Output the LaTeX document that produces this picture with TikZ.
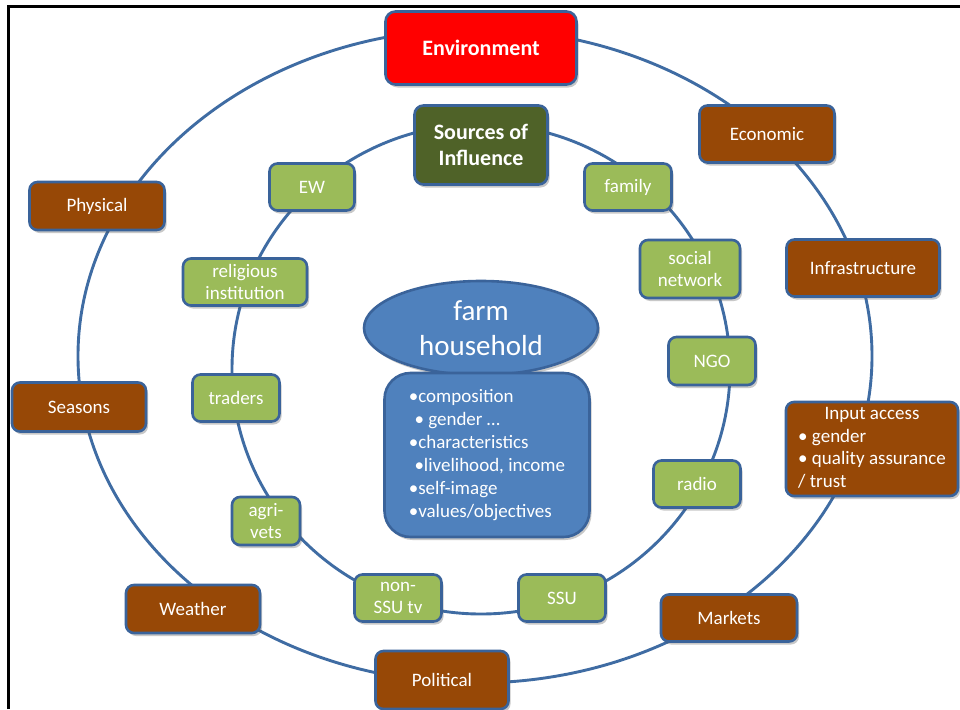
\documentclass[tikz,border=0pt]{standalone}
\usepackage{fontspec}
\setmainfont{Carlito}
\usetikzlibrary{shapes.geometric,shadows}
\definecolor{brn}{HTML}{974806}
\definecolor{grn}{HTML}{9BBB59}
\definecolor{dgrn}{HTML}{4F6228}
\definecolor{bfill}{HTML}{4F81BD}
\definecolor{bd}{HTML}{3A639A}
\definecolor{ring}{HTML}{3F6CA3}
\begin{document}
\begin{tikzpicture}[x=1pt,y=-1pt,
  base/.style={draw=bd, line width=2.6pt, rounded corners=8pt, text=white,
    font=\fontsize{19}{22.5}\selectfont, align=center, inner sep=0pt,
    drop shadow={shadow xshift=2pt, shadow yshift=-3pt, opacity=0.3, fill=black!70}},
  outer/.style={base, fill=brn},
  inner/.style={base, fill=grn},
  head/.style={base, font=\bfseries\fontsize{22}{26}\selectfont, rounded corners=10pt},
  ringline/.style={draw=ring, line width=2.9pt}
]
\useasboundingbox (0,0) rectangle (960,709);
\fill[white] (0,0) rectangle (960,709);
% frame
\coordinate (fa) at (8,709);
\coordinate (fb) at (8,7);
\coordinate (fc) at (960,7);
\draw[line width=3pt, black] (fa) -- (fb) -- (fc);

% rings
\coordinate (oc) at (475,356);
\coordinate (ic) at (481,369);
\draw[ringline] (oc) ellipse [x radius=397pt, y radius=327pt];
\draw[ringline] (ic) ellipse [x radius=249pt, y radius=245pt];

% outer nodes
\node[head, fill=red, minimum width=191pt, minimum height=73pt] (env) at (481,48) {Environment};
\node[outer, minimum width=135pt, minimum height=57pt] (eco) at (767,134) {Economic};
\node[outer, minimum width=135pt, minimum height=48pt] (phy) at (97,206) {Physical};
\node[outer, minimum width=153pt, minimum height=57pt] (inf) at (863,268) {Infrastructure};
\node[outer, minimum width=134pt, minimum height=49pt] (sea) at (79,407) {Seasons};
\node[outer, minimum width=172pt, minimum height=94pt] (inp) at (872,449)
  {\begin{tabular}{@{}l@{}}\multicolumn{1}{c}{Input access}\\ \textbullet\ gender\\ \textbullet\ quality assurance\\ / trust\end{tabular}};
\node[outer, minimum width=134pt, minimum height=48pt] (wea) at (193,609) {Weather};
\node[outer, minimum width=136pt, minimum height=47pt] (mar) at (729,618) {Markets};
\node[outer, minimum width=133pt, minimum height=58pt] (pol) at (442,680) {Political};

% inner nodes
\node[head, fill=dgrn, minimum width=133pt, minimum height=79pt, rounded corners=9pt] (src) at (481,145) {Sources of\\Influence};
\node[inner, minimum width=85pt, minimum height=47pt] (ew) at (312,187) {EW};
\node[inner, minimum width=87pt, minimum height=47pt] (fam) at (628,187) {family};
\node[inner, minimum width=124pt, minimum height=47pt] (rel) at (245,282) {religious\\institution};
\node[inner, minimum width=100pt, minimum height=58pt] (soc) at (690,269) {social\\network};
\node[inner, minimum width=87pt, minimum height=48pt] (ngo) at (712,361) {NGO};
\node[inner, minimum width=87pt, minimum height=47pt] (tra) at (236,398) {traders};
\node[inner, minimum width=87pt, minimum height=47pt] (rad) at (697,484) {radio};
\node[inner, minimum width=68pt, minimum height=48pt] (agr) at (266,521) {agri-\\vets};
\node[inner, minimum width=87pt, minimum height=47pt] (nss) at (398,598) {non-\\SSU tv};
\node[inner, minimum width=87pt, minimum height=47pt] (ssu) at (562,598) {SSU};

% centre
\node[ellipse, draw=bd, line width=2.6pt, fill=bfill, minimum width=234pt, minimum height=94pt,
  inner sep=0pt, text=white, align=center, font=\fontsize{29}{35}\selectfont,
  drop shadow={shadow xshift=2pt, shadow yshift=-3pt, opacity=0.3, fill=black!70}] (farm) at (481,328) {farm\\household};
\node[draw=bd, line width=2.6pt, fill=bfill, rounded corners=26pt, minimum width=205pt, minimum height=164pt,
  inner sep=0pt, text=white, align=left, font=\fontsize{19}{23}\selectfont,
  drop shadow={shadow xshift=2pt, shadow yshift=-3pt, opacity=0.3, fill=black!70}] (info) at (487,455)
  {\textbullet composition\\
   \hspace{0.3em}\textbullet\ gender …\\
   \textbullet characteristics\\
   \hspace{0.3em}\textbullet livelihood, income\hspace*{10pt}\\
   \textbullet self-image\\
   \textbullet values/objectives};
\end{tikzpicture}
\end{document}
